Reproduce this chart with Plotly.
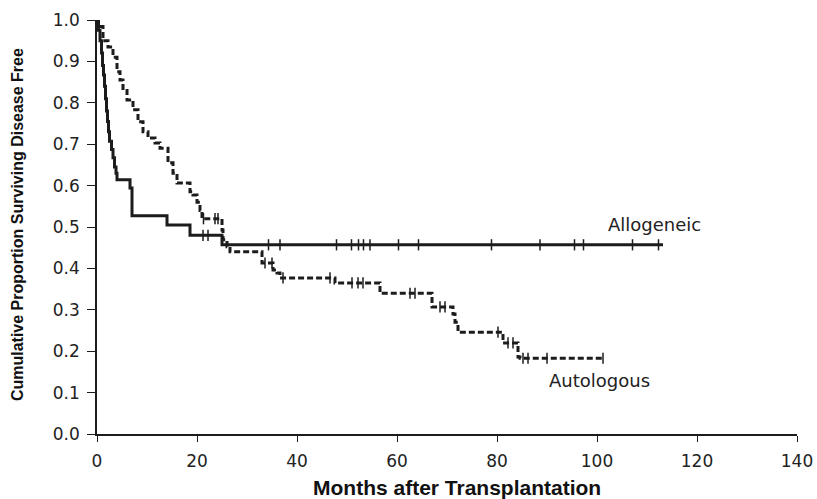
import numpy as np
import plotly.graph_objects as go

# ---- data ----
allo_t = [0.3, 0.6, 0.9, 1.1, 1.3, 1.5, 1.7, 1.9, 2.1, 2.3, 2.5, 2.9, 3.2, 3.5, 3.8, 4.0,
          6.6, 7.0, 14.0, 18.6, 25.0]
allo_s = [0.975, 0.95, 0.92, 0.89, 0.867, 0.84, 0.81, 0.78, 0.755, 0.73, 0.707, 0.687, 0.667,
          0.645, 0.63, 0.614, 0.594, 0.527, 0.505, 0.48, 0.457]
allo_end = 113.2
allo_censor = [21.2, 22.2, 34.3, 36.6, 47.9, 50.9, 52.3, 53.3, 54.6, 60.3, 64.3, 78.9, 88.6,
               95.5, 97.3, 107.1, 112.3]

auto_t = [0.3, 1.2, 2.2, 3.2, 4.0, 4.6, 5.2, 6.0, 7.2, 8.2, 9.2, 10.2, 11.6, 12.6, 14.2, 15.2,
          16.0, 18.6, 19.2, 20.0, 20.6, 21.0, 25.0, 25.2, 26.0, 26.6, 33.0, 35.2, 36.0, 36.6,
          47.6, 56.6, 67.0, 71.2, 71.6, 72.2, 81.2, 84.2, 84.6]
auto_s = [0.984, 0.95, 0.935, 0.91, 0.875, 0.855, 0.83, 0.807, 0.783, 0.754, 0.73, 0.715, 0.703,
          0.69, 0.655, 0.63, 0.606, 0.585, 0.577, 0.56, 0.54, 0.52, 0.493, 0.469, 0.452, 0.44,
          0.413, 0.396, 0.389, 0.377, 0.365, 0.34, 0.307, 0.29, 0.27, 0.246, 0.22, 0.186, 0.183]
auto_end = 101.2
auto_censor = [21.3, 23.6, 24.2, 33.6, 35.0, 37.2, 46.6, 51.0, 52.2, 53.2, 62.6, 63.6, 68.6,
               69.6, 80.2, 82.2, 83.2, 85.2, 86.2, 90.0, 101.2]

x_ticks = [0, 20, 40, 60, 80, 100, 120, 140]
y_ticks = [0.0, 0.1, 0.2, 0.3, 0.4, 0.5, 0.6, 0.7, 0.8, 0.9, 1.0]

INK = "#1c1c1c"


def step_xy(t, s, end):
    xs = [0.0] + list(t) + [end]
    ys = [1.0] + list(s) + [s[-1]]
    return xs, ys


def surv_at(t, s, times):
    t = np.asarray(t)
    s = np.asarray([1.0] + list(s))
    idx = np.searchsorted(t, np.asarray(times), side="right")
    return s[idx]


fig = go.Figure()

for t, s, end, cens, dash in [
    (allo_t, allo_s, allo_end, allo_censor, "solid"),
    (auto_t, auto_s, auto_end, auto_censor, "6px,3px"),
]:
    xs, ys = step_xy(t, s, end)
    fig.add_trace(go.Scatter(
        x=xs, y=ys, mode="lines", line=dict(shape="hv", color=INK, width=3, dash=dash),
        showlegend=False, hoverinfo="skip", cliponaxis=False))
    fig.add_trace(go.Scatter(
        x=cens, y=surv_at(t, s, cens), mode="markers",
        marker=dict(symbol="line-ns", size=8, line=dict(color=INK, width=1.5)),
        showlegend=False, hoverinfo="skip"))

tick_font = dict(family="DejaVu Sans", size=17, color="#222")

fig.update_layout(
    width=817, height=499,
    margin=dict(l=97, r=20, t=20, b=65),
    paper_bgcolor="white", plot_bgcolor="white",
    xaxis=dict(range=[0, 140], tickvals=x_ticks, ticks="outside", ticklen=6, tickwidth=1.2,
               tickcolor=INK, showline=True, linecolor=INK, linewidth=1.5, showgrid=False,
               zeroline=False, tickfont=tick_font, ticklabelstandoff=5, automargin=False),
    yaxis=dict(range=[0, 1], tickvals=y_ticks, tickformat=".1f", ticks="outside", ticklen=8,
               tickwidth=1.2, tickcolor=INK, showline=True, linecolor=INK, linewidth=1.5,
               showgrid=False, zeroline=False, tickfont=tick_font, ticklabelstandoff=4,
               automargin=False),
    annotations=[
        dict(text="Months after Transplantation", xref="paper", yref="paper", x=0.5136,
             y=-0.130, showarrow=False, xanchor="center", yanchor="middle",
             font=dict(family="Liberation Sans", size=21, color="#111", weight="bold")),
        dict(text="Cumulative Proportion Surviving Disease Free", xref="paper", yref="paper",
             x=-0.1143, y=0.507, textangle=-90, showarrow=False, xanchor="center",
             yanchor="middle",
             font=dict(family="Liberation Sans", size=16, color="#111", weight="bold")),
        dict(text="Allogeneic", x=111.4, y=0.505, showarrow=False, xanchor="center",
             yanchor="middle", font=dict(family="DejaVu Sans", size=18, color="#222")),
        dict(text="Autologous", x=100.4, y=0.13, showarrow=False, xanchor="center",
             yanchor="middle", font=dict(family="DejaVu Sans", size=18, color="#222")),
    ],
)

fig.write_html("out.html", config={"displayModeBar": False},
               post_script="document.body.style.margin='0';")
